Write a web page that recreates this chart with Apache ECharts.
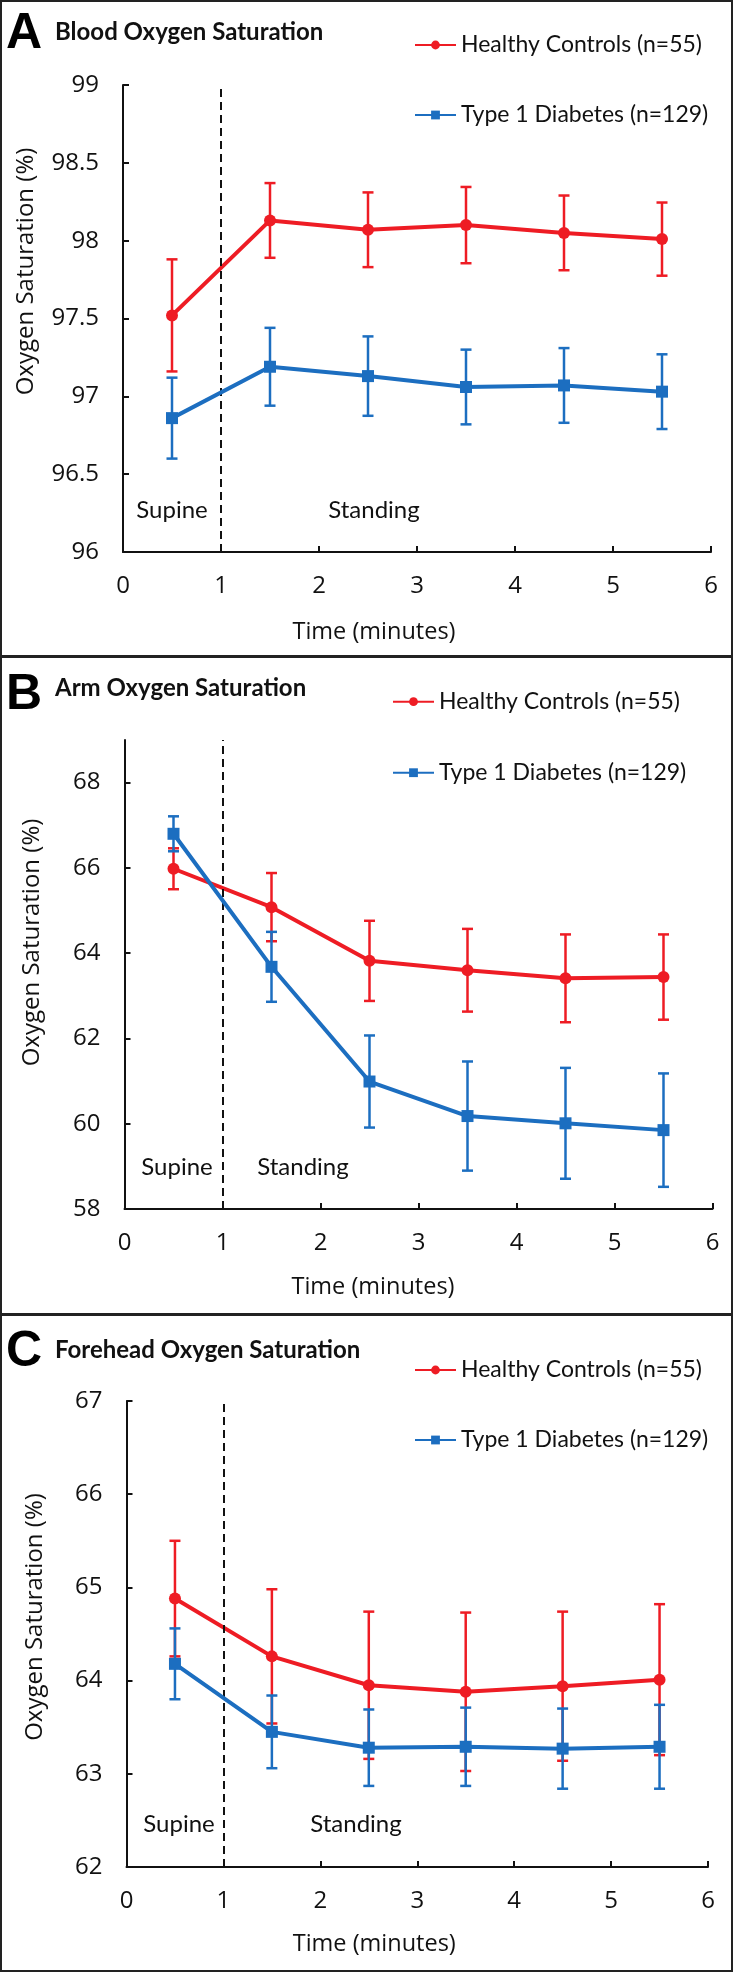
<!DOCTYPE html>
<html><head><meta charset="utf-8">
<script src="https://cdn.jsdelivr.net/npm/echarts@6/dist/echarts.min.js"></script>
<style>html,body{margin:0;padding:0;background:#fff}#c{width:734px;height:1972px}</style>
</head><body><div id="c"></div>
<script>
// ---------- data ----------
const timePoints = [0.5, 1.5, 2.5, 3.5, 4.5, 5.5];
const xTicks = [0, 1, 2, 3, 4, 5, 6];
const seriesNames = ['Healthy Controls (n=55)', 'Type 1 Diabetes (n=129)'];
const panelTitles = ['Blood Oxygen Saturation', 'Arm Oxygen Saturation', 'Forehead Oxygen Saturation'];
const panelLetters = ['A', 'B', 'C'];
const xAxisTitle = 'Time (minutes)';
const yAxisTitle = 'Oxygen Saturation (%)';
const phaseLabels = ['Supine', 'Standing'];

const bloodHealthy    = [97.52, 98.13, 98.07, 98.10, 98.05, 98.01];
const bloodHealthyErr = [0.36, 0.24, 0.24, 0.245, 0.24, 0.235];
const bloodT1D        = [96.86, 97.19, 97.13, 97.06, 97.07, 97.03];
const bloodT1DErr     = [0.26, 0.25, 0.255, 0.24, 0.24, 0.24];
const bloodTicks      = [96, 96.5, 97, 97.5, 98, 98.5, 99];

const armHealthy      = [65.98, 65.08, 63.82, 63.60, 63.41, 63.44];
const armHealthyErr   = [0.48, 0.80, 0.94, 0.97, 1.03, 1.00];
const armT1D          = [66.80, 63.68, 60.99, 60.18, 60.01, 59.85];
const armT1DErr       = [0.41, 0.82, 1.08, 1.28, 1.30, 1.33];
const armTicks        = [58, 60, 62, 64, 66, 68];

const foreheadHealthy    = [64.88, 64.26, 63.95, 63.88, 63.94, 64.01];
const foreheadHealthyErr = [0.62, 0.72, 0.79, 0.85, 0.80, 0.81];
const foreheadT1D        = [64.18, 63.45, 63.28, 63.29, 63.27, 63.29];
const foreheadT1DErr     = [0.38, 0.39, 0.41, 0.42, 0.43, 0.45];
const foreheadTicks      = [62, 63, 64, 65, 66, 67];

// ---------- layout / style ----------
const RED = '#EE1C24', BLUE = '#1C6EC0', INK = '#111';
const panels = [
  {healthy: bloodHealthy, hErr: bloodHealthyErr, t1d: bloodT1D, tErr: bloodT1DErr, ticks: bloodTicks,
   min: 96, max: 99, interval: 0.5,
   grid: {left: 123, top: 85, width: 588, height: 467},
   xGap: 68, xPad: 86, yGap: 85, yPad: 94,
   letterTop: 9.5, titleTop: 20, legend: {left: 414, top: 32, gap: 44},
   phase: [[172, 510], [374, 510]], box: [0, 656]},
  {healthy: armHealthy, hErr: armHealthyErr, t1d: armT1D, tErr: armT1DErr, ticks: armTicks,
   min: 58, max: 69, interval: 1,
   grid: {left: 124.5, top: 740, width: 588, height: 469},
   xGap: 66, xPad: 91, yGap: 80, yPad: 64,
   letterTop: 670.5, titleTop: 676, legend: {left: 392, top: 688.7, gap: 45},
   phase: [[177, 1167.7], [303, 1167.7]], box: [656, 1314]},
  {healthy: foreheadHealthy, hErr: foreheadHealthyErr, t1d: foreheadT1D, tErr: foreheadT1DErr, ticks: foreheadTicks,
   min: 62, max: 67, interval: 1,
   grid: {left: 126.5, top: 1401, width: 581.5, height: 466},
   xGap: 65, xPad: 86, yGap: 79, yPad: 34,
   letterTop: 1327, titleTop: 1338.5, legend: {left: 414, top: 1357, gap: 44},
   phase: [[179, 1824.3], [356, 1824.3]], box: [1314, 1971]}
];

function errRender(params, api) {
  const x = api.value(0), lo = api.value(1), hi = api.value(2);
  const pHi = api.coord([x, hi]);
  const pLo = api.coord([x, lo]);
  const hw = 5.5;
  const style = {stroke: api.visual('color'), lineWidth: 2.5};
  return {type: 'group', children: [
    {type: 'line', shape: {x1: pHi[0], y1: pHi[1], x2: pLo[0], y2: pLo[1]}, style: style},
    {type: 'line', shape: {x1: pHi[0] - hw, y1: pHi[1], x2: pHi[0] + hw, y2: pHi[1]}, style: style},
    {type: 'line', shape: {x1: pLo[0] - hw, y1: pLo[1], x2: pLo[0] + hw, y2: pLo[1]}, style: style}
  ]};
}

const option = {
  animation: false,
  backgroundColor: '#fff',
  title: [], legend: [], grid: [], xAxis: [], yAxis: [], series: [], graphic: []
};

panels.forEach((p, i) => {
  option.grid.push(Object.assign({containLabel: false}, p.grid));
  option.title.push({text: panelLetters[i], left: 6, top: p.letterTop, padding: 0,
    textStyle: {fontFamily: 'Liberation Sans', fontWeight: 'bold', fontSize: 50, lineHeight: 50, color: '#000'}});
  option.title.push({text: panelTitles[i], left: 55, top: p.titleTop, padding: 0,
    textStyle: {fontFamily: 'Lato', fontWeight: 'bold', fontSize: 24, lineHeight: 24, color: INK}});
  option.legend.push({
    data: seriesNames, orient: 'vertical', left: p.legend.left, top: p.legend.top, padding: 0,
    itemGap: p.legend.gap, itemWidth: 41, itemHeight: 11, selectedMode: false,
    textStyle: {fontFamily: 'Lato', fontSize: 23, lineHeight: 26, color: INK}
  });
  option.xAxis.push({
    gridIndex: i, type: 'value', min: 0, max: 6, interval: 1,
    axisLine: {lineStyle: {color: INK, width: 2}},
    axisTick: {inside: true, length: 6, lineStyle: {color: INK, width: 2}, customValues: xTicks},
    axisLabel: {margin: 22, fontFamily: 'Open Sans', fontSize: 24, color: INK, customValues: xTicks},
    splitLine: {show: false},
    name: xAxisTitle, nameLocation: 'middle', nameGap: p.xGap,
    nameTextStyle: {fontFamily: 'Open Sans', fontSize: 23.5, color: INK, padding: [0, p.xPad, 0, 0]}
  });
  option.yAxis.push({
    gridIndex: i, type: 'value', min: p.min, max: p.max, interval: p.interval,
    axisLine: {show: true, lineStyle: {color: INK, width: 2}},
    axisTick: {show: true, inside: true, length: 6, lineStyle: {color: INK, width: 2}, customValues: p.ticks},
    axisLabel: {margin: 24, fontFamily: 'Open Sans', fontSize: 24, color: INK, customValues: p.ticks},
    splitLine: {show: false},
    name: yAxisTitle, nameLocation: 'middle', nameGap: p.yGap,
    nameTextStyle: {fontFamily: 'Open Sans', fontSize: 24, color: INK, padding: [0, 0, 0, p.yPad]}
  });
  // error bars
  option.series.push({
    type: 'custom', name: 'hErr' + i, xAxisIndex: i, yAxisIndex: i, z: 2, clip: false,
    itemStyle: {color: RED}, renderItem: errRender, encode: {x: 0, y: [1, 2]},
    data: timePoints.map((t, k) => [t, p.healthy[k] - p.hErr[k], p.healthy[k] + p.hErr[k]])
  });
  option.series.push({
    type: 'line', name: seriesNames[0], xAxisIndex: i, yAxisIndex: i, z: 3,
    symbol: 'circle', symbolSize: 12, color: RED,
    lineStyle: {width: 4, color: RED}, itemStyle: {color: RED},
    data: timePoints.map((t, k) => [t, p.healthy[k]]),
    markLine: {silent: true, symbol: 'none', animation: false, label: {show: false},
      lineStyle: {type: [8, 5], color: INK, width: 2}, data: [{xAxis: 1}]}
  });
  option.series.push({
    type: 'custom', name: 'tErr' + i, xAxisIndex: i, yAxisIndex: i, z: 4, clip: false,
    itemStyle: {color: BLUE}, renderItem: errRender, encode: {x: 0, y: [1, 2]},
    data: timePoints.map((t, k) => [t, p.t1d[k] - p.tErr[k], p.t1d[k] + p.tErr[k]])
  });
  option.series.push({
    type: 'line', name: seriesNames[1], xAxisIndex: i, yAxisIndex: i, z: 5,
    symbol: 'rect', symbolSize: 12, color: BLUE,
    lineStyle: {width: 4, color: BLUE}, itemStyle: {color: BLUE},
    data: timePoints.map((t, k) => [t, p.t1d[k]])
  });
  // phase annotations
  p.phase.forEach((pos, j) => {
    option.graphic.push({type: 'text', x: pos[0], y: pos[1], silent: true,
      style: {text: phaseLabels[j], font: '24px Lato', fill: INK, align: 'center', verticalAlign: 'middle'}});
  });
  // panel border
  option.graphic.push({type: 'rect', silent: true, z: 100,
    shape: {x: 1, y: p.box[0] + 1, width: 731, height: p.box[1] - p.box[0] - 1},
    style: {fill: 'none', stroke: '#222', lineWidth: 2}});
});

const chart = echarts.init(document.getElementById('c'), null, {renderer: 'canvas'});
chart.setOption(option);
</script></body></html>
